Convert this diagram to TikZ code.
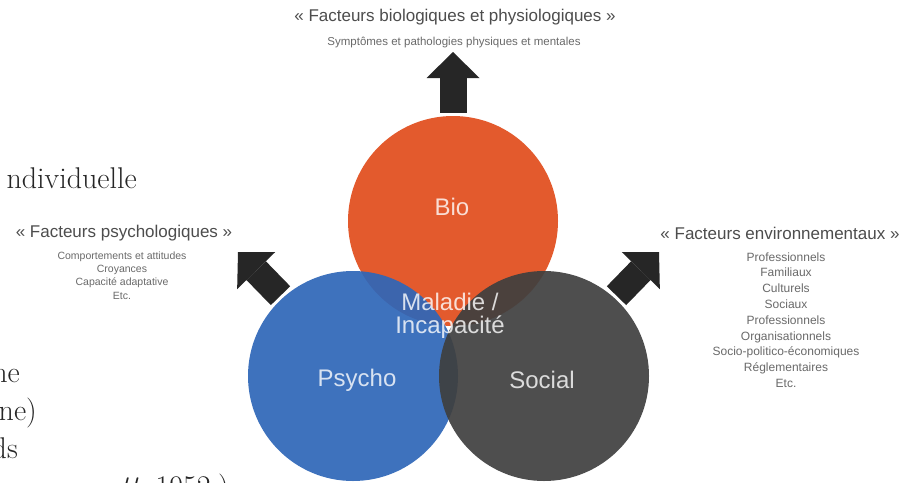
\documentclass[tikz,border=0pt]{standalone}
\usepackage{fontspec}
\newfontfamily\helv{Liberation Sans}
\usetikzlibrary{arrows.meta,positioning}
\definecolor{bioorange}{HTML}{E35A2D}
\definecolor{psyblue}{HTML}{2E66B8}
\definecolor{socgray}{HTML}{3F3F3F}
\definecolor{titlegray}{HTML}{4D4D4D}
\definecolor{listgray}{HTML}{6A6A6A}
\definecolor{arrowgray}{HTML}{262626}
\tikzset{
    sphere/.style = {circle, minimum size=210pt, inner sep=0pt},
    sphere-label/.style = {text=white, text opacity=0.8, align=center, font=\helv\fontsize{24}{23}\selectfont},
    factor-title/.style = {text=titlegray, anchor=base, inner sep=0pt, font=\helv\fontsize{17}{19}\selectfont},
    factor-list/.style = {text=listgray, anchor=north, align=center, inner sep=0pt},
    fat-arrow/.style = {draw=arrowgray, line width=27pt, -{Triangle[width=53pt, length=26pt, line width=0pt]}, shorten <=3pt},
    page-text/.style = {text=black!85, inner sep=0pt, anchor=base east, font=\fontsize{30}{36}\selectfont},
}

\begin{document}
\begin{tikzpicture}[x=1pt, y=-1pt]
\clip (0,0) rectangle (902,482);
\fill[white] (0,0) rectangle (902,482);

% the three circles
\node [sphere, fill=bioorange] (bio) at (453,221) {};
\node [sphere, fill=psyblue, fill opacity=0.92] (psycho) at (353,376) {};
\node [sphere, fill=socgray, fill opacity=0.92] (social) at (544,376) {};

\node [sphere-label] (biolabel) at (452,207) {Bio};
\node [sphere-label] (psycholabel) at (357,380) {Psycho};
\node [sphere-label] (sociallabel) at (542,380) {Social};
\node [sphere-label] (maladie) at (450,316) {Maladie /\\Incapacité};

% arrows
\coordinate (biotip) at (453,52);
\coordinate (psychotip) at (238,252);
\coordinate (socialtip) at (659,252);
\draw [fat-arrow] (bio.north) -- (biotip);
\draw [fat-arrow] (psycho.132) -- (psychotip);
\draw [fat-arrow] (social.48) -- (socialtip);

% factors
\node [factor-title] (biotitle) at (455,21) {« Facteurs biologiques et physiologiques »};
\node [factor-list, font=\helv\fontsize{11.5}{13}\selectfont] (biolist) at (454,36.5) {Symptômes et pathologies physiques et mentales};

\node [factor-title] (psychotitle) at (124,237) {« Facteurs psychologiques »};
\node [factor-list, font=\helv\fontsize{10.5}{13.3}\selectfont] (psycholist) at (122,251.3) {Comportements et attitudes\\Croyances\\Capacité adaptative\\Etc.};

\node [factor-title] (socialtitle) at (780,239) {« Facteurs environnementaux »};
\node [factor-list, font=\helv\fontsize{12}{15.8}\selectfont] (sociallist) at (786,252.2) {Professionnels\\Familiaux\\Culturels\\Sociaux\\Professionnels\\Organisationnels\\Socio-politico-économiques\\Réglementaires\\Etc.};

% bits of the page text
\node [page-text] (pagetext1) at (137,188) {ndividuelle};
\node [page-text] (pagetext2) at (20,382) {ne};
\node [page-text] (pagetext3) at (37,420) {ne)};
\node [page-text] (pagetext4) at (18,458) {ds};
\node [page-text] (pagetext5) at (229,496) {\textit{tt}, 1952.)};
\end{tikzpicture}
\end{document}
